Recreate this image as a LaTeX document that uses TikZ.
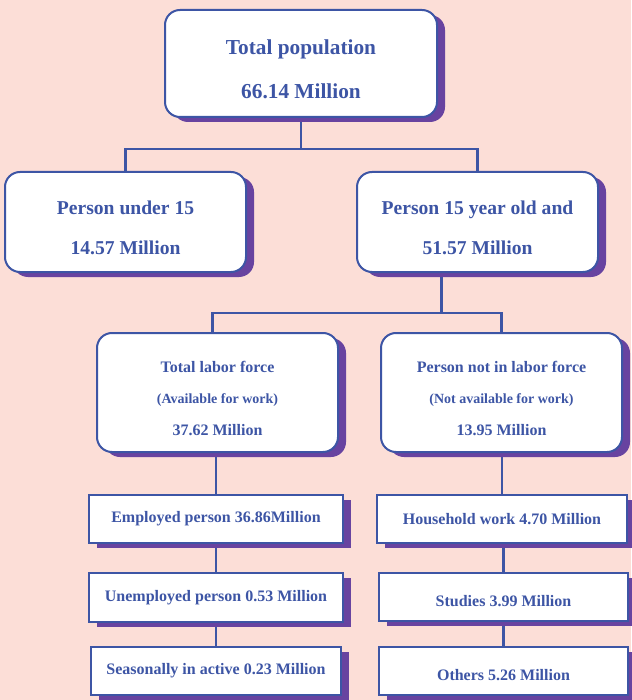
\documentclass[tikz,border=0pt]{standalone}
\usepackage{fontspec}
\setmainfont{Liberation Serif}
\usetikzlibrary{shadows}
\pgfdeclarelayer{background}
\pgfsetlayers{background,main}
\definecolor{bgpeach}{HTML}{FCDED7}
\definecolor{lineblue}{HTML}{3D55A5}
\definecolor{shadepurple}{HTML}{6843A0}
\newcommand{\padtop}[1]{\rule{0pt}{#1}}

\begin{document}
\begin{tikzpicture}[x=1pt,y=-1pt,
	box/.style={draw=lineblue,line width=2pt,fill=white,text=lineblue,align=center,inner sep=0pt,
		drop shadow={shadow xshift=8pt,shadow yshift=-5pt,fill=shadepurple,opacity=1}},
	roundbox/.style={box,rounded corners=15pt},
	bigtext/.style={font=\bfseries\fontsize{21.3}{44}\selectfont},
	midtext/.style={font=\bfseries\fontsize{19.6}{40}\selectfont},
	smalltext/.style={font=\bfseries\fontsize{16}{31.5}\selectfont},
	link/.style={draw=lineblue,line width=2.8pt}]
	\useasboundingbox (0,0) rectangle (631,700);
	\begin{pgfonlayer}{background}
		\fill[bgpeach] (0,0) rectangle (631,700);
	\end{pgfonlayer}
	% top level
	\node[roundbox,bigtext,minimum width=272pt,minimum height=107pt] (total) at (301,63.5)
		{\padtop{27pt}Total population\\66.14 Million};
	% second level
	\node[roundbox,midtext,minimum width=241pt,minimum height=100pt] (under15) at (125.5,222)
		{\padtop{26pt}Person under 15\\14.57 Million};
	\node[roundbox,midtext,minimum width=241pt,minimum height=100pt] (above15) at (477.5,222)
		{\padtop{26pt}Person 15 year old and\\51.57 Million};
	% third level
	\node[roundbox,smalltext,minimum width=241pt,minimum height=119pt] (labor) at (217.5,392.5)
		{\padtop{23pt}Total labor force\\{\fontsize{14}{31.5}\selectfont(Available for work)}\\37.62 Million};
	\node[roundbox,smalltext,minimum width=241pt,minimum height=119pt] (notlabor) at (501.5,392.5)
		{\padtop{23pt}Person not in labor force\\{\fontsize{14}{31.5}\selectfont(Not available for work)}\\13.95 Million};
	% bottom boxes
	\node[box,smalltext,minimum width=254pt,minimum height=48pt] (employed) at (216,519) {Employed person 36.86Million};
	\node[box,smalltext,minimum width=254pt,minimum height=49pt] (unemployed) at (216,597.5) {Unemployed person 0.53 Million};
	\node[box,smalltext,minimum width=250pt,minimum height=48pt] (seasonal) at (216,671) {Seasonally in active 0.23 Million};
	\node[box,smalltext,minimum width=250pt,minimum height=48pt] (household) at (502,519) {Household work 4.70 Million};
	\node[box,smalltext,minimum width=249pt,minimum height=48pt] (studies) at (503.5,597) {\padtop{20pt}Studies 3.99 Million};
	\node[box,smalltext,minimum width=249pt,minimum height=48pt] (others) at (503.5,671) {\padtop{19pt}Others 5.26 Million};
	% connectors
	\begin{pgfonlayer}{background}
		\draw[link] (total.south) -- ++(0,31) coordinate (split1);
		\draw[link] (under15.north) |- (split1) -| (above15.north);
		\draw[link] ([xshift=-36pt]above15.south) -- ++(0,40) coordinate (split2);
		\draw[link] ([xshift=-5pt]labor.north) |- (split2) -| (notlabor.north);
		\foreach \a/\b in {labor/employed,employed/unemployed,unemployed/seasonal,notlabor/household,household/studies,studies/others}
			\draw[link] (\a.south -| \b.north) -- (\b.north);
	\end{pgfonlayer}
\end{tikzpicture}
\end{document}
